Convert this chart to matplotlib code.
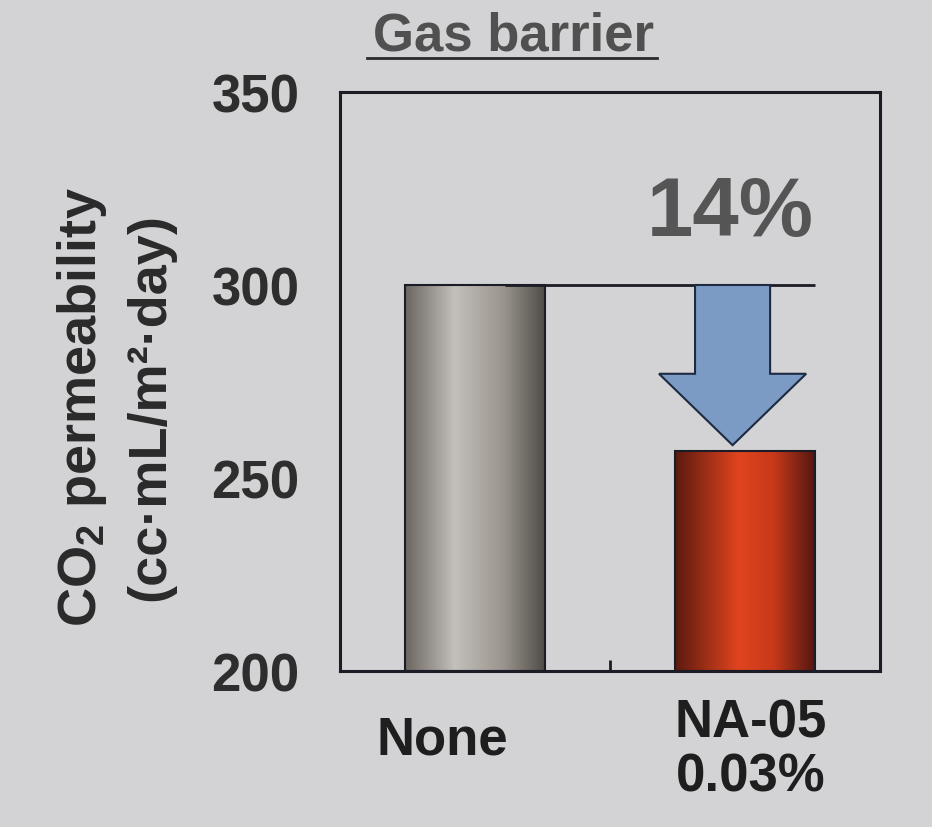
import numpy as np
import matplotlib
matplotlib.use("Agg")
import matplotlib.pyplot as plt
from matplotlib.colors import LinearSegmentedColormap
from matplotlib.lines import Line2D

plt.rcParams['font.family'] = ['Liberation Sans', 'DejaVu Sans']
plt.rcParams['mathtext.fontset'] = 'custom'
plt.rcParams['mathtext.rm'] = 'Liberation Sans'
plt.rcParams['mathtext.bf'] = 'Liberation Sans:bold'

# data
categories = ["None", "NA-05\n0.03%"]
values = [300, 257]
yticks = [200, 250, 300, 350]
reduction_label = "14%"

BG = '#d3d3d5'
EDGE = '#1c1c26'
YMIN, YMAX = 200, 350

fig = plt.figure(figsize=(9.32, 8.28), dpi=100, facecolor=BG)
ax = fig.add_axes([0.3648, 0.1884, 0.5794, 0.6993])
ax.set_facecolor(BG)

x = np.arange(len(categories))
heights = [v - YMIN for v in values]
bars = ax.bar(x, heights, width=0.52, bottom=YMIN, edgecolor=EDGE, linewidth=1.5,
              facecolor='none', zorder=3)

# horizontal shading inside the bars
gray_cmap = LinearSegmentedColormap.from_list(
    'gray_bar', [(0, '#6a655f'), (0.35, '#c3bfba'), (0.7, '#9a958e'), (1, '#4e4a45')])
red_cmap = LinearSegmentedColormap.from_list(
    'red_bar', [(0, '#5c1a10'), (0.45, '#e0441e'), (0.7, '#c8391a'), (1, '#521610')])
grad = np.linspace(0, 1, 256).reshape(1, -1)
for bar, cmap in zip(bars, [gray_cmap, red_cmap]):
    x0, w = bar.get_x(), bar.get_width()
    y0, h = bar.get_y(), bar.get_height()
    im = ax.imshow(grad, cmap=cmap, aspect='auto', extent=[x0, x0 + w, y0, y0 + h],
                   zorder=2, interpolation='bicubic')
    im.set_clip_path(bar)

ax.set_xlim(-0.5, 1.5)
ax.set_ylim(YMIN, YMAX)

# reference line at the "None" level and the reduction arrow
ax.hlines(values[0], 0.11, 1.26, color=EDGE, lw=2, zorder=4)
ax.arrow(0.954, values[0], 0, -(values[0] - values[1] - 1.5), width=0.278,
         head_width=0.545, head_length=18.5, length_includes_head=True,
         fc='#7b9bc5', ec='#1e2a40', lw=1.5, zorder=5)
ax.text(0.944, 313, reduction_label, ha='center', va='baseline', fontsize=60,
        fontweight='bold', color='#555555')

for s in ax.spines.values():
    s.set_color(EDGE)
    s.set_linewidth(2.2)

ax.set_yticks(yticks)
ax.set_yticklabels([str(t) for t in yticks], fontsize=38, fontweight='bold', color='#2e2e2e')
ax.tick_params(axis='y', length=0, pad=29)
ax.set_xticks([0.5])
ax.set_xticklabels([''])
ax.tick_params(axis='x', direction='in', length=8, width=2, color=EDGE)

# category labels under the axis
ax.text(-0.12, -0.075, categories[0], transform=ax.get_xaxis_transform(),
        ha='center', va='top', fontsize=38, fontweight='bold', color='#1e1e1e')
ax.text(1.02, -0.045, categories[1], transform=ax.get_xaxis_transform(),
        ha='center', va='top', fontsize=38, fontweight='bold', color='#1e1e1e',
        linespacing=1.12)

# y label, two lines
fig.text(0.088, 0.508, r'CO$_\mathbf{2}$ permeability', rotation=90, ha='center',
         va='center', fontsize=39, fontweight='bold', color='#2a2a2a')
fig.text(0.161, 0.508, '(cc\u00b7mL/m\u00b2\u00b7day)', rotation=90, ha='center',
         va='center', fontsize=39, fontweight='bold', color='#2a2a2a')

# underlined title
fig.text(0.5515, 0.9396, "Gas barrier", ha='center', va='baseline', fontsize=38,
         fontweight='bold', color='#505050')
fig.add_artist(Line2D([0.394, 0.705], [0.929, 0.929], transform=fig.transFigure,
                      color='#2a2a2a', lw=2))

fig.savefig("out.png", dpi=100, facecolor=BG)
